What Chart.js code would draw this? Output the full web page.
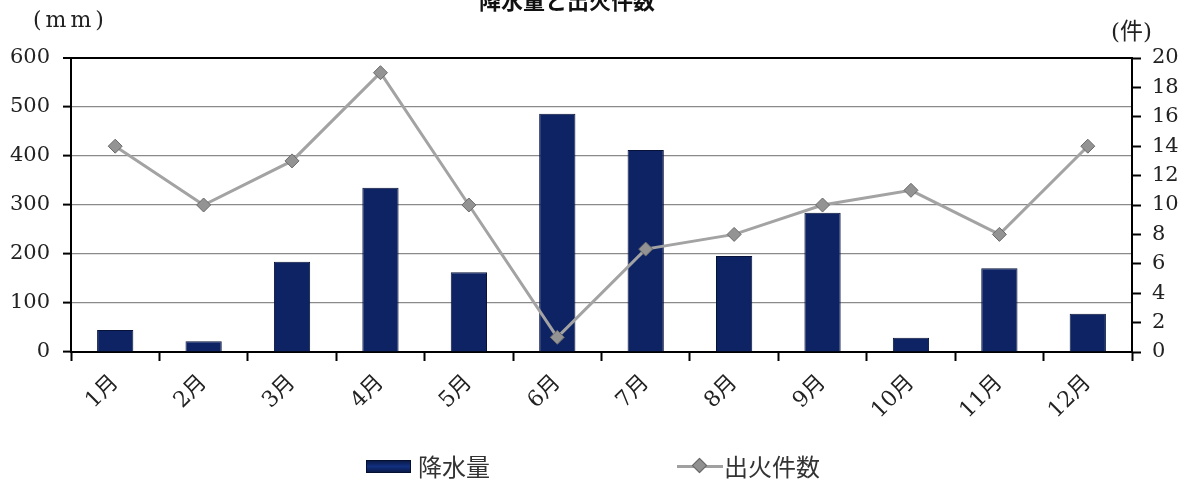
<!DOCTYPE html>
<html>
<head>
<meta charset="utf-8">
<script src="https://cdn.jsdelivr.net/npm/chart.js@4"></script>
<style>
  html, body { margin: 0; padding: 0; background: #fff; overflow: hidden; }
  #wrap { position: relative; width: 1190px; height: 484px; }
  #title { position: absolute; top: -14px; left: 0; width: 1134px; text-align: center;
    font: bold 22px "Noto Sans CJK JP", sans-serif; line-height: 26px; color: #111; }
  .unit { position: absolute; font: 22px "DejaVu Serif", "Noto Sans CJK JP", serif; color: #222; }
  .legend { position: absolute; top: 452px; font: 24px "Noto Sans CJK JP", sans-serif; color: #333; line-height: 28px; }
  .swatch { position: absolute; background: linear-gradient(#0a1a4a, #123080 50%, #0a1a4a); border: 1px solid #051030; }
</style>
</head>
<body>
<div id="wrap">
  <canvas id="rainChart" width="1190" height="484"></canvas>
  <div id="title">降水量と出火件数</div>
  <div class="unit" style="left:33px; top:7px; letter-spacing:4px;">(mm)</div>
  <div class="unit" style="left:1111px; top:12px; font-size:23px;">(件)</div>
  <div class="swatch" style="left:366px; top:460px; width:43px; height:11px;"></div>
  <div class="legend" style="left:418px;">降水量</div>
  <div style="position:absolute; left:677px; top:465px; width:46px; height:3px; background:#a0a0a0;"></div>
  <div style="position:absolute; left:694px; top:460px; width:9px; height:9px; background:#909090; border:1px solid #666; transform:rotate(45deg);"></div>
  <div class="legend" style="left:724px;">出火件数</div>
</div>
<script>
const months = ["1月", "2月", "3月", "4月", "5月", "6月", "7月", "8月", "9月", "10月", "11月", "12月"];
const rainfall = [45, 22, 184, 335, 163, 486, 412, 196, 284, 29, 171, 78];
const fires = [14, 10, 13, 19, 10, 1, 7, 8, 10, 11, 8, 14];
const rainTicks = [0, 100, 200, 300, 400, 500, 600];
const fireTicks = [0, 2, 4, 6, 8, 10, 12, 14, 16, 18, 20];

const tickFont = { family: "'DejaVu Serif', 'Noto Sans CJK JP', serif", size: 21 };

let ctx = document.getElementById("rainChart").getContext("2d");

new Chart(ctx, {
  type: 'bar',
  data: {
    labels: months,
    datasets: [
      {
        type: 'line',
        label: '出火件数',
        data: fires,
        yAxisID: 'y2',
        borderColor: '#a3a3a3',
        borderWidth: 3,
        pointStyle: 'rectRot',
        pointRadius: 7,
        pointBackgroundColor: '#939393',
        pointBorderColor: '#6a6a6a',
        pointBorderWidth: 1,
        tension: 0,
        order: 0
      },
      {
        label: '降水量',
        data: rainfall,
        yAxisID: 'y',
        backgroundColor: '#0e2363',
        borderColor: '#061238',
        borderWidth: 1,
        barPercentage: 0.41,
        categoryPercentage: 1,
        order: 1
      }
    ]
  },
  options: {
    responsive: false,
    animation: false,
    layout: { padding: { top: 58, left: 0, right: 0, bottom: 0 } },
    plugins: {
      legend: { display: false },
      tooltip: { enabled: false }
    },
    scales: {
      x: {
        offset: true,
        grid: { offset: true, drawOnChartArea: false, tickLength: 9, tickColor: '#000', tickWidth: 2 },
        border: { color: '#000', width: 2 },
        ticks: { font: { family: "'DejaVu Serif', 'Noto Sans CJK JP', serif", size: 22 }, color: '#222', minRotation: 45, maxRotation: 45, padding: 9, autoSkip: false },
        afterFit: function (scale) { scale.height = 132; }
      },
      y: {
        position: 'left',
        min: 0,
        max: 600,
        afterBuildTicks: function (scale) { scale.ticks = rainTicks.map(v => ({ value: v })); },
        grid: {
          color: function (c) { return c.tick && (c.tick.value === 600 || c.tick.value === 0) ? '#000' : '#8a8a8a'; },
          lineWidth: function (c) { return c.tick && c.tick.value === 600 ? 2 : 1.2; },
          tickLength: 8,
          tickColor: '#000',
          tickWidth: 2
        },
        border: { color: '#000', width: 2 },
        ticks: { font: tickFont, color: '#222', padding: 13, autoSkip: false },
        afterFit: function (scale) { scale.width = 71; }
      },
      y2: {
        position: 'right',
        min: 0,
        max: 20,
        afterBuildTicks: function (scale) { scale.ticks = fireTicks.map(v => ({ value: v })); },
        grid: { drawOnChartArea: false, tickLength: 9, tickColor: '#000', tickWidth: 2 },
        border: { color: '#000', width: 2 },
        ticks: { font: tickFont, color: '#222', padding: 11, autoSkip: false },
        afterFit: function (scale) { scale.width = 58; }
      }
    }
  }
});
</script>
</body>
</html>
